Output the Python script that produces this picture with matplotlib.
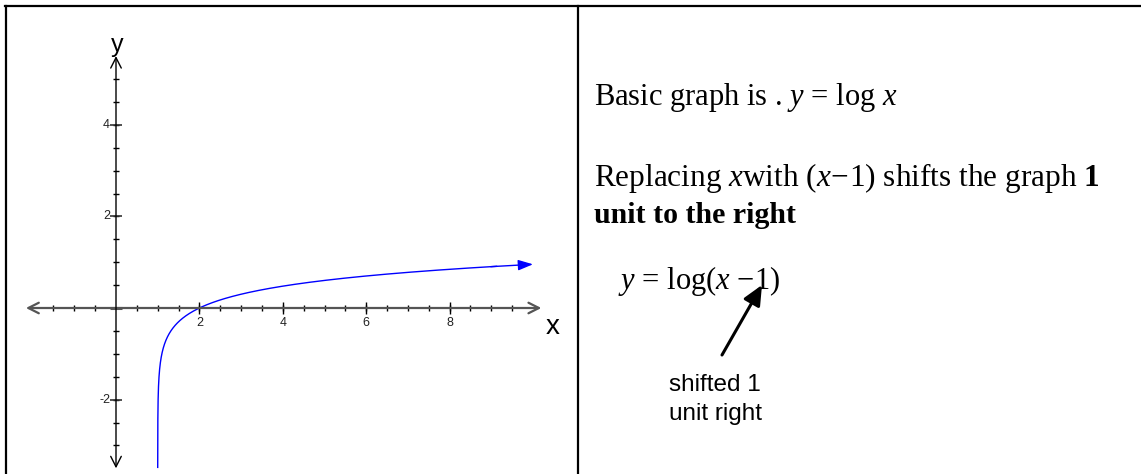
import numpy as np
import matplotlib
matplotlib.use("Agg")
import matplotlib.pyplot as plt

plt.rcParams["mathtext.fontset"] = "custom"
plt.rcParams["mathtext.rm"] = "Liberation Serif"
plt.rcParams["mathtext.it"] = "Liberation Serif:italic"
plt.rcParams["mathtext.bf"] = "Liberation Serif:bold"

# graph window and ticks
x_axis_range = [-2.16, 10.2]
y_axis_range = [-3.5, 5.5]
x_major = [2, 4, 6, 8]
y_major = [4, 2, -2]
x_minor = [v for v in np.arange(-1.5, 9.51, 0.5) if v != 0]
y_minor = [v for v in np.arange(-3.0, 5.01, 0.5) if v != 0]

# y = log(x - 1), drawn from just right of the asymptote up to x = 10
x_start, x_end = 1 + 10 ** -3.48, 10.0
shift = 1

text_serif = "Liberation Serif"
text_sans = "Liberation Sans"

W, H = 1141, 474
fig = plt.figure(figsize=(W / 100, H / 100), dpi=100)

# table frame, in pixel units
bg = fig.add_axes([0, 0, 1, 1])
bg.set_xlim(0, W)
bg.set_ylim(H, 0)
bg.axis("off")
bg.plot([5, W], [6, 6], color="black", lw=1.6)
bg.plot([5.5, 5.5], [6, H], color="black", lw=1.6)
bg.plot([578, 578], [6, H], color="black", lw=1.6)

# graph axes placed so that the origin sits at (116, 308) px
ox, oy = 116, 308
ux, uy = 41.7, 45.8
xlim = (-2.6, 10.6)
ylim = (-3.7, 5.8)
left = (ox + xlim[0] * ux) / W
right = (ox + xlim[1] * ux) / W
top = (oy - ylim[1] * uy)
bottom = (oy - ylim[0] * uy)
ax = fig.add_axes([left, (H - bottom) / H, right - left, (bottom - top) / H])
ax.set_xlim(*xlim)
ax.set_ylim(*ylim)
ax.axis("off")
ax.patch.set_alpha(0)

# axes with open arrow heads at both ends
ax.annotate("", xy=(x_axis_range[1], 0), xytext=(x_axis_range[0], 0),
            arrowprops=dict(arrowstyle="<->,head_length=0.75,head_width=0.38",
                            color="#555555", lw=1.6, shrinkA=0, shrinkB=0,
                            mutation_scale=10))
ax.annotate("", xy=(0, y_axis_range[1]), xytext=(0, y_axis_range[0]),
            arrowprops=dict(arrowstyle="<->,head_length=0.75,head_width=0.38",
                            color="black", lw=1.0, shrinkA=0, shrinkB=0,
                            mutation_scale=10))

# tick marks
ax.plot(x_minor, [0] * len(x_minor), ls="none", marker="|", ms=4.5,
        mew=1.0, color="black")
ax.plot(x_major, [0] * len(x_major), ls="none", marker="|", ms=8,
        mew=1.0, color="black")
ax.plot([0] * len(y_minor), y_minor, ls="none", marker="_", ms=4.5,
        mew=1.0, color="black")
ax.plot([0] * len(y_major), y_major, ls="none", marker="_", ms=8,
        mew=1.2, color="#333333")
ax.plot([0], [0], ls="none", marker="_", ms=8, mew=2.2, color="#555555")

for v in x_major:
    ax.text(v, -0.33, str(v), ha="center", va="center", fontsize=9,
            family=text_sans, color="#222222")
for v in y_major:
    ax.text(-0.14, v, str(v), ha="right", va="center", fontsize=9,
            family=text_sans, color="#222222")

ax.text(10.46, -0.41, "x", ha="center", va="center", fontsize=20,
        family=text_sans, clip_on=False)
ax.text(0.02, 5.75, "y", ha="center", va="center", fontsize=18,
        family=text_sans, clip_on=False)

# the curve
xs = shift + np.logspace(np.log10(x_start - shift), np.log10(x_end - shift), 600)
ys = np.log10(xs - shift)
ax.plot(xs[:-6], ys[:-6], color="#0000ff", lw=1.0, clip_on=False)
ax.annotate("", xy=(xs[-1], ys[-1]), xytext=(xs[-8], ys[-8]),
            arrowprops=dict(arrowstyle="-|>,head_length=0.9,head_width=0.32",
                            color="#0000ff", lw=1.0, shrinkA=0, shrinkB=0,
                            mutation_scale=10))

# right-hand notes
bg.text(594, 105, r"Basic graph is . $y$ = log $x$", fontsize=22,
        family=text_serif, va="baseline")
bg.text(594, 186, r"Replacing $x$with $(x\!-\!1)$ shifts the graph $\mathbf{1}$",
        fontsize=22.5, family=text_serif, va="baseline")
bg.text(594, 223, "unit to the right", fontsize=21.5, family=text_serif,
        fontweight="bold", va="baseline")
bg.text(618, 289, "$y$ = log($x$ \u22121)", fontsize=22, family=text_serif,
        va="baseline")
bg.annotate("", xy=(762, 285), xytext=(722, 355),
            arrowprops=dict(arrowstyle="-|>,head_length=1.2,head_width=0.55",
                            color="black", lw=2.2, shrinkA=0, shrinkB=0,
                            mutation_scale=10))
bg.text(669, 391, "shifted 1", fontsize=17.5, family=text_sans, va="baseline")
bg.text(669, 420, "unit right", fontsize=17.5, family=text_sans, va="baseline")

fig.savefig("out.png", dpi=100)
